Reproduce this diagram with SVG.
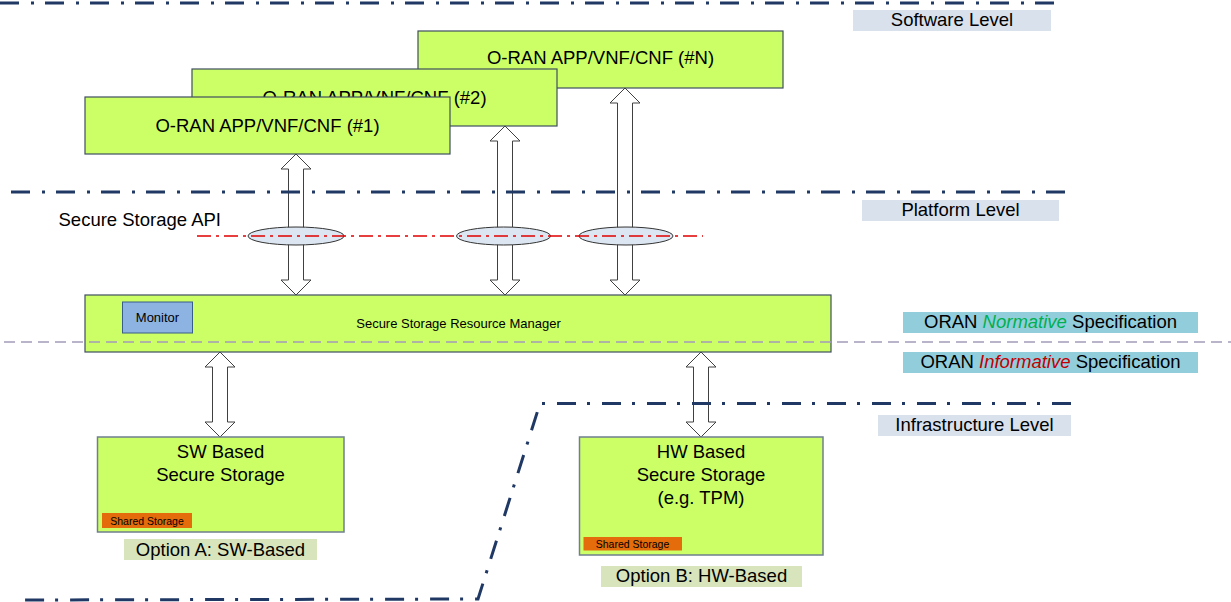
<svg xmlns="http://www.w3.org/2000/svg" width="1231" height="602" viewBox="0 0 1231 602">
<style>
text{font-family:"Liberation Sans",Arial,sans-serif;fill:#000}
.box{fill:#ccff66;stroke:#3f4f5f;stroke-width:1.2}
.sbox{fill:#ccff66;stroke:#6f7f8f;stroke-width:1.5}
.lvl{fill:#d9e1ed}
.spec{fill:#92cddc}
.opt{fill:#d8e4bc}
.shared{fill:#e46c0a}
.arrow{fill:#fff;stroke:#404040;stroke-width:1}
.api{fill:#dce6f2;stroke:#333;stroke-width:1}
.navy{fill:none;stroke:#1f3864;stroke-width:3;stroke-dasharray:19 12 3 11}
.big{font-size:18.5px}
.mid{font-size:13px}
.small{font-size:10.5px}
</style>
<rect width="1231" height="602" fill="#fff"/>

<g id="app-n">
<rect class="box" x="418" y="31" width="365" height="57"/>
<text class="big" x="600.5" y="64" text-anchor="middle">O-RAN APP/VNF/CNF (#N)</text>
</g>
<g id="app-2">
<rect class="box" x="192" y="69" width="365" height="57"/>
<text class="big" x="374.5" y="104" text-anchor="middle">O-RAN APP/VNF/CNF (#2)</text>
</g>
<g id="app-1">
<rect class="box" x="85" y="97" width="365" height="57"/>
<text class="big" x="267.5" y="132" text-anchor="middle">O-RAN APP/VNF/CNF (#1)</text>
</g>

<g id="connectors">
<polygon class="arrow" points="296,154 311,169 303.5,169 303.5,280 311,280 296,295 281,280 288.5,280 288.5,169 281,169"/>
<polygon class="arrow" points="505,126 520,141 512.5,141 512.5,280 520,280 505,295 490,280 497.5,280 497.5,141 490,141"/>
<polygon class="arrow" points="625,88 640,103 632.5,103 632.5,280 640,280 625,295 610,280 617.5,280 617.5,103 610,103"/>
<polygon class="arrow" points="220,352 235,367 227.5,367 227.5,422 235,422 220,437 205,422 212.5,422 212.5,367 205,367"/>
<polygon class="arrow" points="701,352 716,367 708.5,367 708.5,422 716,422 701,437 686,422 693.5,422 693.5,367 686,367"/>
</g>

<g id="api">
<ellipse class="api" cx="296" cy="236" rx="48" ry="9"/>
<ellipse class="api" cx="503.5" cy="236" rx="47" ry="9"/>
<ellipse class="api" cx="626" cy="236" rx="47" ry="9"/>
<line x1="197" y1="236" x2="703" y2="236" stroke="#e00000" stroke-width="1.3" stroke-dasharray="14 5 3 5"/>
<text class="big" x="58.5" y="226">Secure Storage API</text>
</g>

<g id="ssrm">
<rect class="box" x="85" y="295" width="746" height="57"/>
<text class="mid" x="458.5" y="328" text-anchor="middle">Secure Storage Resource Manager</text>
</g>
<g id="monitor">
<rect x="122.5" y="302" width="70" height="31" fill="#8db3e2" stroke="#385d8a" stroke-width="1"/>
<text class="mid" x="157.5" y="322" text-anchor="middle">Monitor</text>
</g>

<g id="sw-storage">
<rect class="sbox" x="97.5" y="437" width="246.5" height="95"/>
<text class="big" x="220.5" y="458" text-anchor="middle">SW Based</text>
<text class="big" x="220.5" y="481" text-anchor="middle">Secure Storage</text>
<rect class="shared" x="102" y="513" width="90" height="15"/>
<text class="small" x="147" y="524.5" text-anchor="middle">Shared Storage</text>
</g>
<g id="option-a">
<rect class="opt" x="124" y="539" width="193" height="21"/>
<text class="big" x="220.5" y="555.5" text-anchor="middle">Option A: SW-Based</text>
</g>

<g id="hw-storage">
<rect class="sbox" x="579.5" y="437" width="243.5" height="118"/>
<text class="big" x="701" y="458" text-anchor="middle">HW Based</text>
<text class="big" x="701" y="481" text-anchor="middle">Secure Storage</text>
<text class="big" x="701" y="504" text-anchor="middle">(e.g. TPM)</text>
<rect class="shared" x="583.5" y="537" width="98.5" height="13.5"/>
<text class="small" x="632.5" y="547.5" text-anchor="middle">Shared Storage</text>
</g>
<g id="option-b">
<rect class="opt" x="601" y="566" width="201" height="21"/>
<text class="big" x="701.5" y="582" text-anchor="middle">Option B: HW-Based</text>
</g>

<g id="levels">
<line class="navy" x1="0" y1="3" x2="1061" y2="3"/>
<line class="navy" x1="11" y1="192" x2="1071" y2="192"/>
<path class="navy" d="M1071,403.5 L540,403.5 L478,599 L14,600"/>
<line x1="4" y1="342" x2="1231" y2="342" stroke="#a49cba" stroke-width="1.5" stroke-dasharray="11 6"/>
</g>

<g id="software-level">
<rect class="lvl" x="853" y="10" width="198" height="21"/>
<text class="big" x="952" y="26" text-anchor="middle">Software Level</text>
</g>
<g id="platform-level">
<rect class="lvl" x="862" y="200" width="197" height="21"/>
<text class="big" x="960.5" y="216" text-anchor="middle">Platform Level</text>
</g>
<g id="infrastructure-level">
<rect class="lvl" x="878" y="415" width="193" height="21"/>
<text class="big" x="974.5" y="431" text-anchor="middle">Infrastructure Level</text>
</g>
<g id="normative">
<rect class="spec" x="903" y="312" width="295" height="21"/>
<text class="big" x="1050.5" y="328" text-anchor="middle">ORAN <tspan fill="#00b050" font-style="italic">Normative</tspan> Specification</text>
</g>
<g id="informative">
<rect class="spec" x="903" y="352" width="295" height="21"/>
<text class="big" x="1050.5" y="368" text-anchor="middle">ORAN <tspan fill="#c00000" font-style="italic">Informative</tspan> Specification</text>
</g>
</svg>
